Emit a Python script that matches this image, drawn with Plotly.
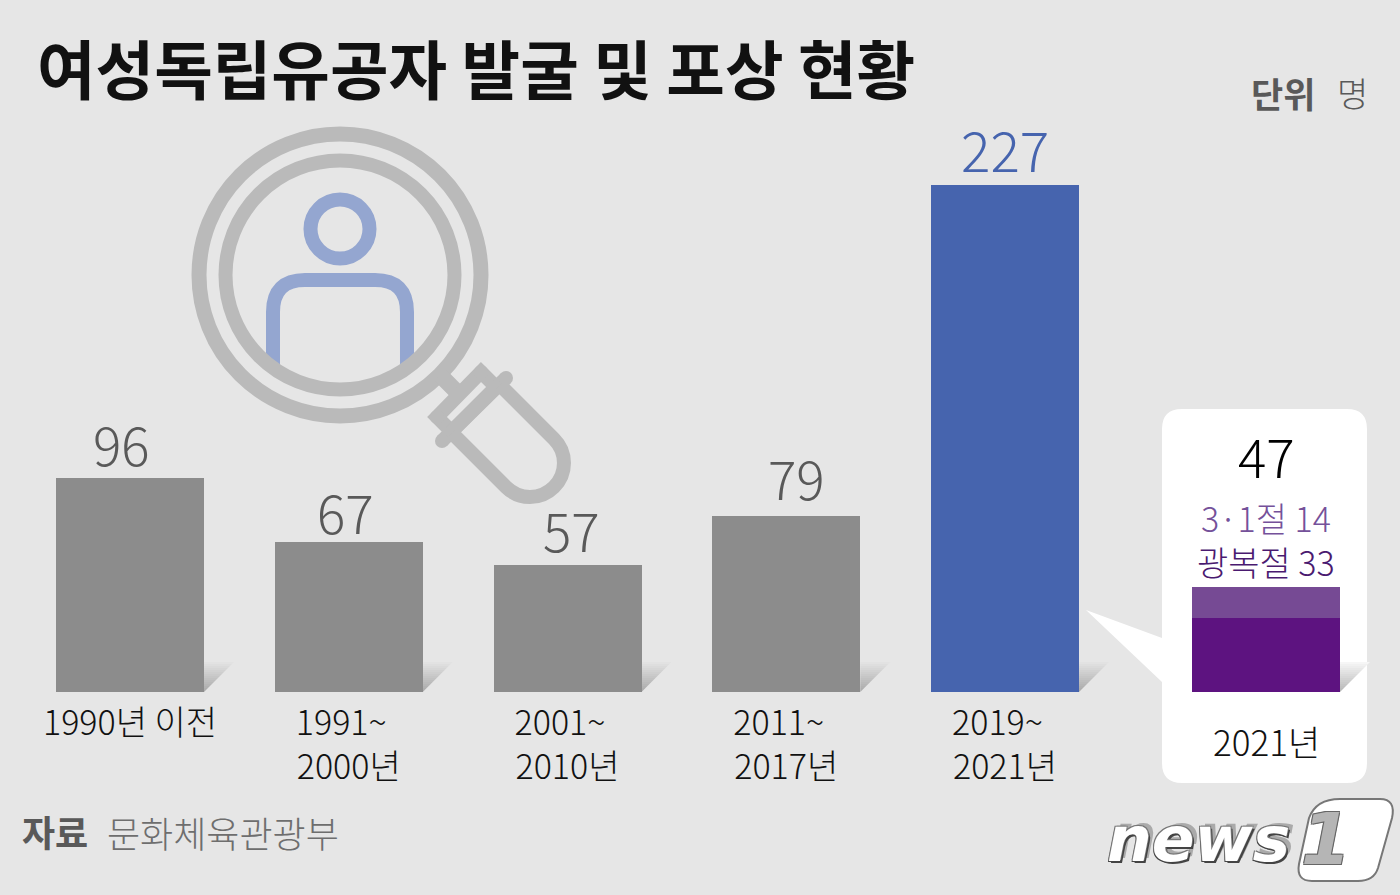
import plotly.graph_objects as go

# ---------- data ----------
period_labels = ["1990년 이전", "1991~\u00a0\u00a0", "2001~\u00a0\u00a0", "2011~\u00a0\u00a0", "2019~\u00a0\u00a0"]
period_labels2 = ["", "2000년", "2010년", "2017년", "2021년"]
period_values = [96, 67, 57, 79, 227]
period_colors = ["#8c8c8c", "#8c8c8c", "#8c8c8c", "#8c8c8c", "#4664ae"]
label_colors = ["#595959", "#595959", "#595959", "#595959", "#4664ae"]
label_sizes = [53, 53, 53, 53, 55]
label_xshift = [-9, -3, 4, 10, 0]
label_yshift = [35, 31, 36, 39, 37]
year_2021_total = 47
liberation_day = 33   # 광복절
march_first = 14      # 3·1절

W, H = 1400, 895
FONT = "Noto Sans CJK KR"
BASE_PX = 692
PX_PER_UNIT = 507 / 227
BAR0, STEP, BAR_W = 130, 218.75, 148
INSET_PX = 1266


def xd(px):
    return (px - BAR0) / STEP


def xp(px):
    return px / W


def yp(px):
    return 1 - px / H


def P(px, py):
    return f"{xp(px):.5f},{yp(py):.5f}"


def path(d_pts, fill="rgba(0,0,0,0)", line=None, width=0):
    return dict(type="path", xref="paper", yref="paper", path=d_pts, fillcolor=fill,
                line=dict(color=line or "rgba(0,0,0,0)", width=width), layer="below")


def poly(points, fill="rgba(0,0,0,0)", line=None, width=0, close=True):
    d = "M" + " L".join(P(*p) for p in points) + (" Z" if close else "")
    return path(d, fill, line, width)


def circle(cx, cy, r, line=None, width=0, fill="rgba(0,0,0,0)"):
    return dict(type="circle", xref="paper", yref="paper", x0=xp(cx - r), x1=xp(cx + r),
                y0=yp(cy + r), y1=yp(cy - r), fillcolor=fill,
                line=dict(color=line or "rgba(0,0,0,0)", width=width), layer="below")


def mix(a, b, t):
    va = [int(a[i:i + 2], 16) for i in (1, 3, 5)]
    vb = [int(b[i:i + 2], 16) for i in (1, 3, 5)]
    return "#" + "".join(f"{round(p + (q - p) * t):02x}" for p, q in zip(va, vb))


def shadow(x_right, c_top, c_bottom):
    out = []
    n = 15
    top, size = 662, 30
    for i in range(n):
        y0 = top + size * i / n
        y1 = top + size * (i + 1) / n
        out.append(poly([(x_right, y0), (x_right + size - (y0 - top), y0),
                         (x_right + size - (y1 - top), y1), (x_right, y1)],
                        mix(c_top, c_bottom, (i + 1) / n)))
    return out


shapes = []
# callout
cx0, cy0, cx1, cy1, r = 1162, 409, 1367, 783, 20
callout = (f"M{P(cx0 + r, cy0)} L{P(cx1 - r, cy0)} Q{P(cx1, cy0)} {P(cx1, cy0 + r)} "
           f"L{P(cx1, cy1 - r)} Q{P(cx1, cy1)} {P(cx1 - r, cy1)} L{P(cx0 + r, cy1)} "
           f"Q{P(cx0, cy1)} {P(cx0, cy1 - r)} L{P(cx0, 682)} L{P(1086, 610)} L{P(cx0, 638)} "
           f"L{P(cx0, cy0 + r)} Q{P(cx0, cy0)} {P(cx0 + r, cy0)} Z")

# bar shadows
for i in range(5):
    shapes += shadow(BAR0 + STEP * i + BAR_W / 2, "#e6e6e6", "#aaaaaa")
shapes.append(path(callout, "#ffffff"))
shapes += shadow(INSET_PX + BAR_W / 2, "#fafafa", "#b8b8b8")

# magnifier + person
PERSON, GLASS = "#94a6d0", "#bababa"
shapes.append(circle(340, 229, 29.5, PERSON, 14))
shapes.append(path(f"M{P(273, 368)} L{P(273, 312)} Q{P(273, 280)} {P(305, 280)} L{P(375, 280)} "
                   f"Q{P(407, 280)} {P(407, 312)} L{P(407, 368)}", line=PERSON, width=14))
shapes.append(circle(340, 275, 141, GLASS, 15))
shapes.append(circle(340, 275, 114.5, GLASS, 14))
shapes.append(poly([(440, 375), (460, 395)], line=GLASS, width=16, close=False))
shapes.append(poly([(481, 372), (496, 387), (451.5, 431.5), (437, 417)], line=GLASS, width=14))
shapes.append(poly([(442, 441), (506, 378)], line=GLASS, width=14, close=False))
for c in [(442, 441), (506, 378), (481, 372), (437, 417)]:
    shapes.append(circle(c[0], c[1], 7, fill=GLASS))
shapes.append(path(f"M{P(500, 385)} L{P(554, 439)} "
                   f"C{P(567.3, 452.3)} {P(567.3, 473.7)} {P(554, 487)} "
                   f"C{P(540.7, 500.3)} {P(519.3, 500.3)} {P(506, 487)} L{P(452, 433)}",
                   line=GLASS, width=14))

# logo badge
shapes.append(path(f"M{P(1309, 818)} Q{P(1316, 799)} {P(1340, 799)} L{P(1380, 799)} Q{P(1396, 799)} {P(1392, 818)} "
                   f"L{P(1378, 868)} Q{P(1374, 881)} {P(1358, 881)} L{P(1312, 881)} Q{P(1296, 881)} {P(1299, 864)} Z",
                   "#ffffff", "#777777", 2))


def txt(x, y, text, size, color, xref="paper", weight=300, anchor="center", **kw):
    return dict(x=x, y=yp(y), xref=xref, yref="paper", text=text, showarrow=False, xanchor=anchor,
                yanchor="middle", font=dict(family=kw.pop("family", FONT), size=size, color=color, weight=weight, **kw))


annotations = [
    txt(xp(1249), 93, "단위", 35, "#595959", weight=700, anchor="left"),
    txt(xp(1335), 93, "명", 34, "#595959", anchor="left"),
    txt(xp(20), 831, "자료", 36, "#595959", weight=700, anchor="left"),
    txt(xp(105), 832, "문화체육관광부", 36, "#6e6e6e", anchor="left"),
    txt(xd(INSET_PX), 455, str(year_2021_total), 53, "#000000", xref="x"),
    txt(xd(INSET_PX), 539,
        f'<span style="color:#75519a">3·1절 {march_first}</span><br>'
        f'<span style="color:#4a1a70">광복절 {liberation_day}</span>', 34, "#4a1a70", xref="x"),
    txt(xd(INSET_PX), 740, "2021년", 35, "#111111", xref="x"),
    txt(xp(1198), 839, "news", 63, "#ffffff", weight=700, family="DejaVu Sans", style="italic",
        shadow="-1px -1px 0 #777,1px -1px 0 #777,-1px 1px 0 #444,2px 2px 0 #444,5px -3px 0 #aaa"),
    txt(xp(1326), 839, "1", 72, "#b5b5b5", weight=700, family="DejaVu Sans", style="italic",
        shadow="-1px -1px 0 #666,1px -1px 0 #666,-1px 1px 0 #666,1px 1px 0 #666"),
]
for i, v in enumerate(period_values):
    annotations.append(dict(x=i, y=v, xref="x", yref="y", text=str(v), showarrow=False, xanchor="center",
                            yanchor="middle", xshift=label_xshift[i], yshift=label_yshift[i],
                            font=dict(family=FONT, size=label_sizes[i], color=label_colors[i], weight=300)))

fig = go.Figure()
fig.add_bar(x=list(range(5)), y=period_values, width=BAR_W / STEP, marker=dict(color=period_colors, line_width=0),
            hoverinfo="skip")
fig.add_bar(x=[xd(INSET_PX)], y=[liberation_day], width=BAR_W / STEP, marker=dict(color="#5d1380", line_width=0),
            hoverinfo="skip")
fig.add_bar(x=[xd(INSET_PX)], y=[march_first], width=BAR_W / STEP, marker=dict(color="#764a94", line_width=0),
            hoverinfo="skip")

fig.update_layout(
    width=W, height=H, margin=dict(l=0, r=0, t=0, b=0), barmode="stack", showlegend=False,
    paper_bgcolor="#e6e6e6", plot_bgcolor="rgba(0,0,0,0)", shapes=shapes, annotations=annotations,
    title=dict(text="<b>여성독립유공자 발굴 및 포상 현황</b>", x=xp(37), xanchor="left", y=yp(71.5), yanchor="middle",
               font=dict(family=FONT, size=63.7, color="#111111")),
    xaxis=dict(range=[xd(0), xd(W)], tickmode="array", tickvals=list(range(5)),
               ticktext=[a + ("<br>" + b if b else "") for a, b in zip(period_labels, period_labels2)],
               tickfont=dict(family=FONT, size=34, color="#111111", weight=300),
               showgrid=False, zeroline=False, showline=False, ticks="", ticklabelstandoff=8, tickangle=0,
               automargin=False, fixedrange=True),
    yaxis=dict(domain=[1 - BASE_PX / H, 1], range=[0, BASE_PX / PX_PER_UNIT], visible=False, fixedrange=True),
)
fig.write_html("out.html", config=dict(displayModeBar=False),
               post_script="document.body.style.margin='0';")
